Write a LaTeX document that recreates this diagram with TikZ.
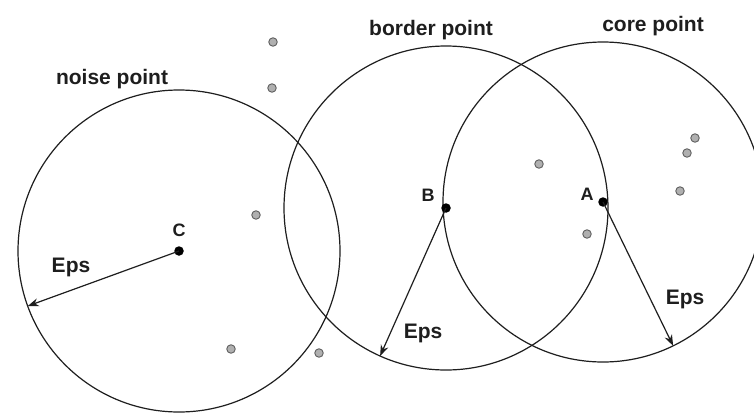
\documentclass[tikz,border=0pt]{standalone}
\usepackage{fontspec}
\setmainfont{Liberation Sans}
\usetikzlibrary{arrows.meta}
\definecolor{ink}{HTML}{1E1E1E}
\definecolor{dotfill}{HTML}{B0B0B0}
\definecolor{dotline}{HTML}{606060}
\begin{document}
\begin{tikzpicture}[x=1pt,y=-1pt,
  epsring/.style={circle,draw=ink,line width=1.2pt,inner sep=0pt,outer sep=0pt,minimum size=#1},
  keypt/.style={circle,fill=black,inner sep=0pt,minimum size=9.5pt},
  greypt/.style={circle,fill=dotfill,draw=dotline,line width=0.9pt,inner sep=0pt,minimum size=8.5pt},
  biglabel/.style={anchor=base,inner sep=0pt,text=ink,font=\fontsize{21}{24}\selectfont\bfseries},
  ptlabel/.style={anchor=base,inner sep=0pt,text=ink,font=\fontsize{18}{21}\selectfont\bfseries},
  epsarrow/.style={line width=1.2pt,draw=ink,-{Stealth[length=11pt,width=8pt]}}
]
\useasboundingbox[fill=white] (0,0) rectangle (754,412);

% circles
\node[epsring=322pt] (circC) at (179,251) {};
\node[epsring=324pt] (circB) at (446,208) {};
\node[epsring=320pt] (circA) at (603,202) {};

% key points
\node[keypt] (C) at (179,251) {};
\node[keypt] (B) at (446,208) {};
\node[keypt] (A) at (603,202) {};

% grey points
\node[greypt] (g1) at (273,42) {};
\node[greypt] (g2) at (272,88) {};
\node[greypt] (g3) at (256,215) {};
\node[greypt] (g4) at (231,349) {};
\node[greypt] (g5) at (319,353) {};
\node[greypt] (g6) at (539,164) {};
\node[greypt] (g7) at (587,234) {};
\node[greypt] (g8) at (695,138) {};
\node[greypt] (g9) at (687,153) {};
\node[greypt] (g10) at (680,191) {};

% arrows
\draw[epsarrow] (C.center) -- (circC.200.7);
\draw[epsarrow] (B.center) -- (circB.246.4);
\draw[epsarrow] (A.center) -- (circA.296.1);

% labels
\node[biglabel] (tN) at (112,84) {noise point};
\node[biglabel] (tB) at (431,36) {border point};
\node[biglabel] (tA) at (653,32) {core point};
\node[ptlabel] (lC) at (179,236) {C};
\node[ptlabel] (lB) at (428,201) {B};
\node[ptlabel] (lA) at (587,200) {A};
\node[biglabel] (eC) at (71,272) {Eps};
\node[biglabel] (eB) at (423,338) {Eps};
\node[biglabel] (eA) at (685,304) {Eps};
\end{tikzpicture}
\end{document}
